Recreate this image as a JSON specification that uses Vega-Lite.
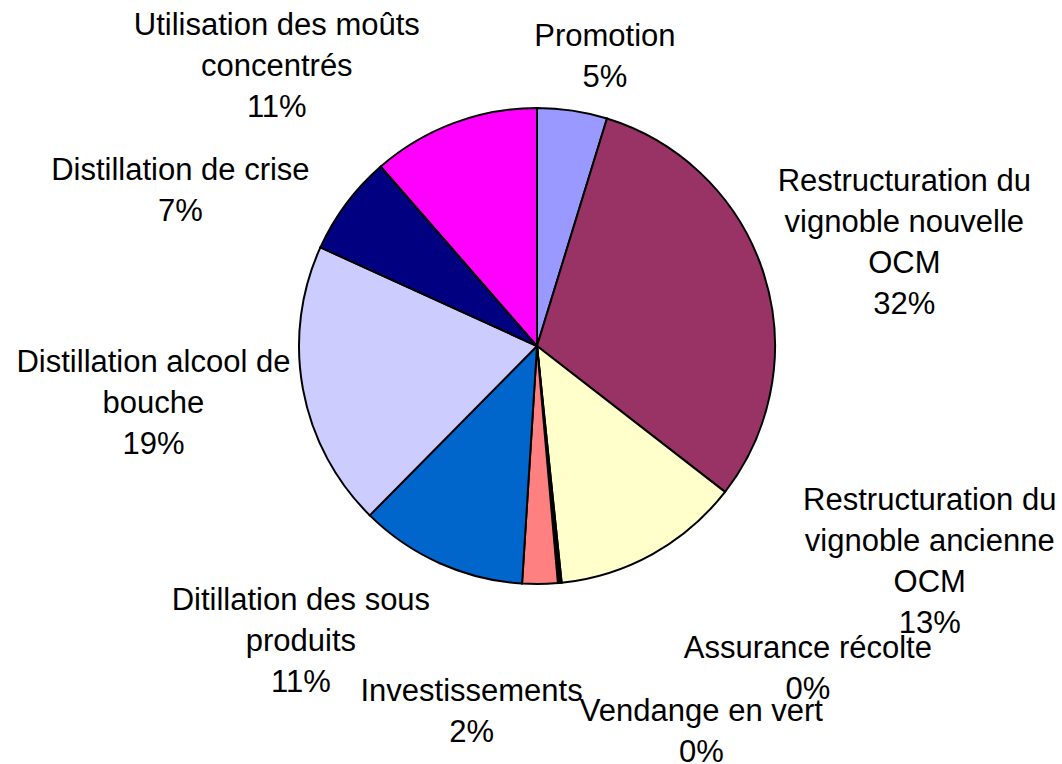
{
  "$schema": "https://vega.github.io/schema/vega-lite/v6.json",
  "width": 476,
  "height": 476,
  "autosize": {"type": "none"},
  "padding": {"left": 299, "top": 108, "right": 287, "bottom": 180},
  "background": "white",
  "view": {"stroke": null},
  "config": {
    "text": {"font": "Liberation Sans", "fontSize": 31, "lineHeight": 41, "align": "center", "baseline": "middle", "fill": "black", "lineBreak": "\n"}
  },
  "data": {
    "values": [
      {"i": 1, "poste": "Promotion", "value": 4.75, "label": "Promotion\n5%"},
      {"i": 2, "poste": "Restructuration du vignoble nouvelle OCM", "value": 30.75, "label": "Restructuration du\nvignoble nouvelle\nOCM\n32%"},
      {"i": 3, "poste": "Restructuration du vignoble ancienne OCM", "value": 12.85, "label": "Restructuration du\nvignoble ancienne\nOCM\n13%"},
      {"i": 4, "poste": "Assurance récolte", "value": 0.12, "label": "Assurance récolte\n0%"},
      {"i": 5, "poste": "Vendange en vert", "value": 0.13, "label": "Vendange en vert\n0%"},
      {"i": 6, "poste": "Investissements", "value": 2.4, "label": "Investissements\n2%"},
      {"i": 7, "poste": "Ditillation des sous produits", "value": 11.4, "label": "Ditillation des sous\nproduits\n11%"},
      {"i": 8, "poste": "Distillation alcool de bouche", "value": 19.4, "label": "Distillation alcool de\nbouche\n19%"},
      {"i": 9, "poste": "Distillation de crise", "value": 6.8, "label": "Distillation de crise\n7%"},
      {"i": 10, "poste": "Utilisation des moûts concentrés", "value": 11.4, "label": "Utilisation des moûts\nconcentrés\n11%"}
    ]
  },
  "encoding": {
    "theta": {"field": "value", "type": "quantitative", "stack": true},
    "order": {"field": "i", "type": "quantitative"},
    "detail": {"field": "poste", "type": "nominal"}
  },
  "layer": [
    {
      "mark": {"type": "arc", "stroke": "black", "strokeWidth": 2},
      "encoding": {
        "color": {
          "field": "poste",
          "type": "nominal",
          "legend": null,
          "scale": {
            "domain": ["Promotion", "Restructuration du vignoble nouvelle OCM", "Restructuration du vignoble ancienne OCM", "Assurance récolte", "Vendange en vert", "Investissements", "Ditillation des sous produits", "Distillation alcool de bouche", "Distillation de crise", "Utilisation des moûts concentrés"],
            "range": ["#9999FF", "#993366", "#FFFFCC", "#CCFFFF", "#660066", "#FF8080", "#0066CC", "#CCCCFF", "#000080", "#FF00FF"]
          }
        }
      }
    },
    {"mark": {"type": "text", "radius": 295, "dx": 24, "dy": -17}, "encoding": {"text": {"condition": {"test": "datum.i == 1", "field": "label", "type": "nominal"}, "value": ""}}},
    {"mark": {"type": "text", "radius": 380, "dx": 5, "dy": -49}, "encoding": {"text": {"condition": {"test": "datum.i == 2", "field": "label", "type": "nominal"}, "value": ""}}},
    {"mark": {"type": "text", "radius": 300, "dx": 247, "dy": -107}, "encoding": {"text": {"condition": {"test": "datum.i == 3", "field": "label", "type": "nominal"}, "value": ""}}},
    {"mark": {"type": "text", "radius": 320, "dx": 239, "dy": -15}, "encoding": {"text": {"condition": {"test": "datum.i == 4", "field": "label", "type": "nominal"}, "value": ""}}},
    {"mark": {"type": "text", "radius": 385, "dx": 129, "dy": -17}, "encoding": {"text": {"condition": {"test": "datum.i == 5", "field": "label", "type": "nominal"}, "value": ""}}},
    {"mark": {"type": "text", "radius": 365, "dx": -70, "dy": -19}, "encoding": {"text": {"condition": {"test": "datum.i == 6", "field": "label", "type": "nominal"}, "value": ""}}},
    {"mark": {"type": "text", "radius": 360, "dx": -89, "dy": -74}, "encoding": {"text": {"condition": {"test": "datum.i == 7", "field": "label", "type": "nominal"}, "value": ""}}},
    {"mark": {"type": "text", "radius": 390, "dx": 0, "dy": -54}, "encoding": {"text": {"condition": {"test": "datum.i == 8", "field": "label", "type": "nominal"}, "value": ""}}},
    {"mark": {"type": "text", "radius": 390, "dx": -44, "dy": 58}, "encoding": {"text": {"condition": {"test": "datum.i == 9", "field": "label", "type": "nominal"}, "value": ""}}},
    {"mark": {"type": "text", "radius": 380, "dx": -127, "dy": 36}, "encoding": {"text": {"condition": {"test": "datum.i == 10", "field": "label", "type": "nominal"}, "value": ""}}}
  ]
}
